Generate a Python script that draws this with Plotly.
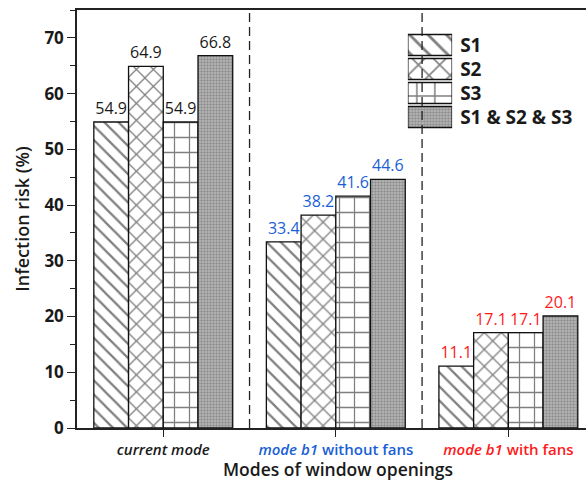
import plotly.graph_objects as go

# Infection risk (%) per window-opening mode and scenario
modes = ["current mode", "mode b1 without fans", "mode b1 with fans"]
mode_labels = [
    "<i>current mode</i>",
    "<span style='color:#1a5fd6'><i>mode b1</i> without fans</span>",
    "<span style='color:#ff1a1a'><i>mode b1</i> with fans</span>",
]
mode_colors = ["#1a1a1a", "#1a5fd6", "#ff1a1a"]

series = ["S1", "S2", "S3", "S1 & S2 & S3"]
s1 = [54.9, 33.4, 11.1]
s2 = [64.9, 38.2, 17.1]
s3 = [54.9, 41.6, 17.1]
s_all = [66.8, 44.6, 20.1]
values = [s1, s2, s3, s_all]

y_ticks = [0, 10, 20, 30, 40, 50, 60, 70]

# fill pattern for each scenario
patterns = [
    dict(shape="\\", size=10, solidity=0.22, fgcolor="#000", bgcolor="white"),
    dict(shape="x", size=12, solidity=0.2, fgcolor="#000", bgcolor="white"),
    dict(shape="+", size=15, solidity=0.16, fgcolor="#000", bgcolor="white"),
    dict(shape=".", size=3, solidity=0.5, fgcolor="#606060", bgcolor="#bcbcbc"),
]

FONT = "Open Sans"

fig = go.Figure()

for name, vals, pat in zip(series, values, patterns):
    fig.add_trace(go.Bar(
        name=name,
        x=modes,
        y=vals,
        marker=dict(color="white", pattern=pat,
                    line=dict(color="#111", width=1.3)),
        text=[f"{v:.1f}" for v in vals],
        textposition="outside",
        textfont=dict(family=FONT, size=16, color=mode_colors),
        cliponaxis=False,
        showlegend=False,
    ))

# key drawn as a small horizontal bar chart in the upper right
fig.add_trace(go.Bar(
    x=[1] * len(series),
    y=series,
    orientation="h",
    width=0.875,
    xaxis="x2",
    yaxis="y2",
    marker=dict(
        color="white",
        line=dict(color="#111", width=1.3),
        pattern=dict(
            shape=[p["shape"] for p in patterns],
            size=[p["size"] + 3 if p["shape"] != "." else p["size"] for p in patterns],
            solidity=[p["solidity"] for p in patterns],
            fgcolor=[p["fgcolor"] for p in patterns],
            bgcolor=[p["bgcolor"] for p in patterns],
        ),
    ),
    showlegend=False,
    hoverinfo="skip",
))

# dashed separators between the mode groups
for xb in [0.5, 1.5]:
    fig.add_shape(type="line", xref="x", yref="paper",
                  x0=xb, x1=xb, y0=0, y1=1,
                  line=dict(color="#222", width=1.3, dash="9px,5px"))

# x-axis title set at the foot of the figure, below the tick labels
fig.add_annotation(
    text="Modes of window openings",
    xref="paper", yref="paper",
    x=0.513, y=-0.1295,
    xanchor="center", yanchor="bottom",
    showarrow=False,
    borderpad=0,
    font=dict(family=FONT, size=17.5, weight=600, color="#1a1a1a"),
)

fig.update_layout(
    width=586,
    height=482,
    margin=dict(l=77, r=0, t=10, b=54),
    paper_bgcolor="white",
    plot_bgcolor="white",
    barmode="group",
    bargap=0.195,
    bargroupgap=0,
    showlegend=False,
    font=dict(family=FONT, color="#1a1a1a"),
    xaxis=dict(
        type="category",
        range=[-0.5, 2.45],
        tickvals=modes,
        ticktext=mode_labels,
        tickfont=dict(family=FONT, size=15, weight=600, color="#1a1a1a"),
        ticks="outside",
        ticklen=7,
        tickwidth=1.3,
        tickcolor="#222",
        showline=True,
        linecolor="#222",
        linewidth=1.5,
        mirror=True,
        showgrid=False,
    ),
    yaxis=dict(
        range=[0, 75],
        tickvals=y_ticks,
        tickfont=dict(family=FONT, size=17, weight="bold", color="#1a1a1a"),
        ticks="outside",
        ticklen=8,
        tickwidth=1.3,
        tickcolor="#222",
        minor=dict(dtick=5, ticks="outside", ticklen=5, tickwidth=1.2, tickcolor="#222"),
        showline=True,
        linecolor="#222",
        linewidth=1.5,
        showgrid=False,
        zeroline=False,
        title=dict(text="Infection risk (%)",
                   font=dict(family=FONT, size=18, weight=600, color="#1a1a1a"),
                   standoff=10),
    ),
    xaxis2=dict(
        domain=[0.650, 0.737],
        anchor="y2",
        range=[0, 1],
        visible=False,
        fixedrange=True,
    ),
    yaxis2=dict(
        domain=[0.7153, 0.945],
        anchor="x2",
        type="category",
        autorange="reversed",
        side="right",
        showline=False,
        showgrid=False,
        zeroline=False,
        ticks="",
        ticklabelstandoff=7,
        tickfont=dict(family=FONT, size=19, weight="bold", color="#1a1a1a"),
        fixedrange=True,
    ),
)

fig.write_html("out.html")
